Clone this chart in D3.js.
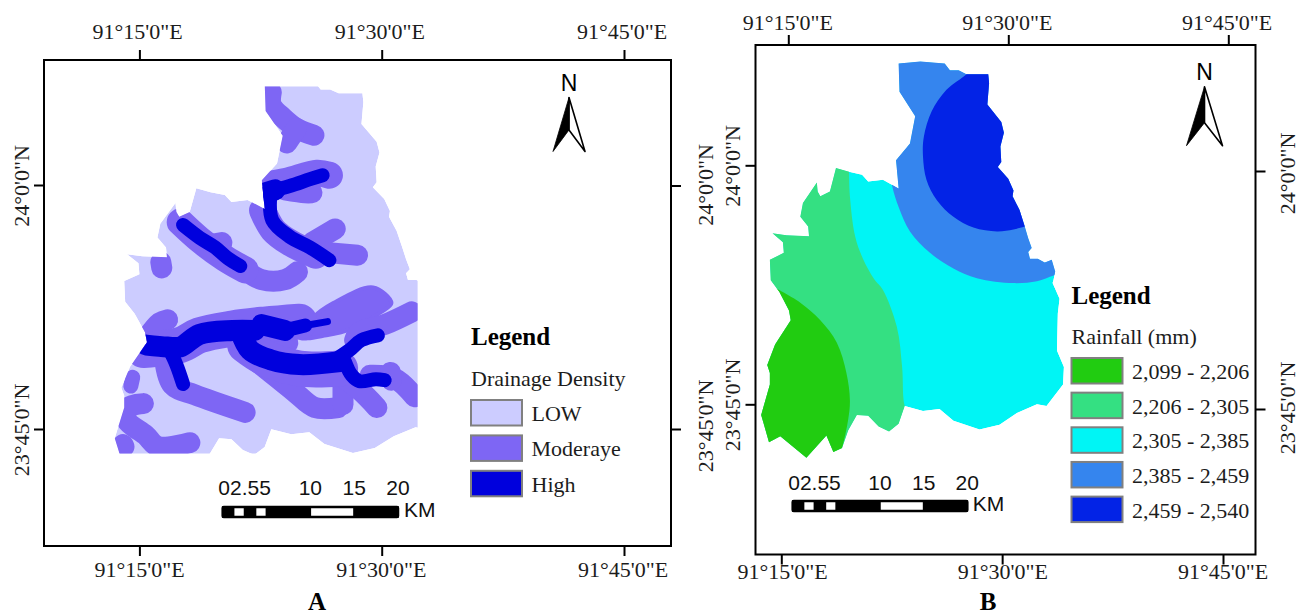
<!DOCTYPE html>
<html><head><meta charset="utf-8">
<style>html,body{margin:0;padding:0;background:#fff}svg{display:block}
.serif{font-family:"Liberation Serif",serif;fill:#1c1c1c}
.sans{font-family:"Liberation Sans",sans-serif;fill:#111}</style>
<script src="https://cdn.jsdelivr.net/npm/d3@7/dist/d3.min.js"></script></head><body>
<svg id="c" width="1297" height="612"></svg>
<script>
// ---- data: everything is [longitude, latitude] in decimal degrees ----
const lonTicks=[91.25,91.5,91.75], latTicks=[24,23.75];
const lonLabels=["91°15'0\"E","91°30'0\"E","91°45'0\"E"], latLabels=["24°0'0\"N","23°45'0\"N"];
const boundary=[[91.376,24.105],[91.401,24.107],[91.429,24.105],[91.435,24.098],[91.445,24.098],[91.454,24.094],[91.479,24.094],[91.480,24.085],[91.478,24.063],[91.494,24.045],[91.497,24.034],[91.493,24.020],[91.494,24.004],[91.490,23.999],[91.502,23.987],[91.508,23.975],[91.507,23.969],[91.515,23.955],[91.521,23.938],[91.525,23.926],[91.529,23.916],[91.525,23.912],[91.527,23.905],[91.536,23.905],[91.544,23.901],[91.552,23.904],[91.556,23.892],[91.554,23.883],[91.553,23.880],[91.561,23.864],[91.559,23.849],[91.558,23.811],[91.566,23.794],[91.565,23.776],[91.546,23.754],[91.535,23.756],[91.512,23.747],[91.492,23.735],[91.469,23.730],[91.439,23.739],[91.423,23.751],[91.404,23.749],[91.383,23.754],[91.376,23.736],[91.365,23.728],[91.353,23.733],[91.341,23.744],[91.328,23.745],[91.318,23.729],[91.311,23.711],[91.301,23.707],[91.293,23.724],[91.270,23.701],[91.240,23.723],[91.227,23.717],[91.218,23.745],[91.228,23.776],[91.228,23.788],[91.225,23.796],[91.234,23.817],[91.252,23.842],[91.250,23.852],[91.239,23.871],[91.229,23.883],[91.228,23.904],[91.244,23.911],[91.243,23.922],[91.231,23.931],[91.247,23.929],[91.273,23.928],[91.272,23.938],[91.263,23.948],[91.266,23.962],[91.282,23.983],[91.283,23.974],[91.286,23.969],[91.297,23.974],[91.304,23.998],[91.319,23.994],[91.334,23.991],[91.341,23.984],[91.358,23.986],[91.376,23.977],[91.373,24.006],[91.389,24.023],[91.395,24.051],[91.377,24.076]];
// map A is cut to this window [west, south, east, north]
const windowA=[91.0,23.725,91.537,24.101];

// Drainage density (map A): stream buffers as centre lines, by buffer width
const moderateNarrow=[[[91.243,23.803],[91.241,23.794]]];
const moderateStreams=[
 [[91.386,24.095],[91.386,24.082],[91.398,24.069],[91.412,24.058],[91.430,24.051]],
 [[91.412,24.058],[91.402,24.043]],
 [[91.400,23.995],[91.421,23.992],[91.428,23.992]],
 [[91.428,23.941],[91.452,23.955]],
 [[91.442,23.931],[91.475,23.928]],
 [[91.359,23.913],[91.376,23.903],[91.400,23.903],[91.413,23.911]],
 [[91.323,23.939],[91.335,23.941]],
 [[91.272,23.921],[91.273,23.915]],
 [[91.256,23.841],[91.271,23.859],[91.279,23.862]],
 [[91.472,23.841],[91.477,23.849],[91.503,23.857],[91.531,23.870]],
 [[91.359,23.829],[91.385,23.808],[91.410,23.788],[91.431,23.772],[91.455,23.772]],
 [[91.460,23.800],[91.460,23.775]],
 [[91.457,23.805],[91.477,23.790],[91.495,23.772]],
 [[91.488,23.805],[91.513,23.802],[91.534,23.783]],
 [[91.509,23.808],[91.510,23.800]],
 [[91.276,23.821],[91.284,23.795],[91.307,23.785],[91.359,23.767]],
 [[91.254,23.776],[91.238,23.772],[91.237,23.759],[91.256,23.744],[91.269,23.732],[91.302,23.736]],
 [[91.233,23.734],[91.234,23.732]],
 [[91.379,23.841],[91.403,23.838]]
];
const moderateMid=[
 [[91.379,24.000],[91.402,24.004],[91.433,24.012],[91.446,24.010]],
 [[91.377,23.974],[91.388,23.954],[91.405,23.941],[91.432,23.928]],
 [[91.292,23.962],[91.312,23.944],[91.338,23.925],[91.359,23.913]]
];
const moderateBroad=[
 [[91.254,23.831],[91.292,23.836],[91.312,23.846],[91.346,23.853],[91.379,23.857],[91.415,23.860]],
 [[91.359,23.836],[91.379,23.823],[91.415,23.812],[91.457,23.812]]
];
const moderateBlob=[[91.429,23.864],[91.450,23.879],[91.491,23.895],[91.510,23.879],[91.498,23.869],[91.470,23.853],[91.443,23.846],[91.415,23.844]];
const highBroad=[
 [[91.257,23.836],[91.279,23.834],[91.292,23.834],[91.312,23.847],[91.346,23.851],[91.369,23.851]],
 [[91.354,23.851],[91.364,23.831],[91.385,23.821],[91.415,23.816],[91.457,23.819]],
 [[91.376,23.857],[91.400,23.851]],
 [[91.380,23.992],[91.390,23.995]]
];
const highStreams=[
 [[91.400,23.851],[91.421,23.856]],
 [[91.452,23.821],[91.467,23.831],[91.479,23.841],[91.496,23.846]],
 [[91.281,23.831],[91.288,23.816],[91.295,23.796]],
 [[91.462,23.819],[91.469,23.805],[91.477,23.799],[91.494,23.801],[91.503,23.800]],
 [[91.382,23.993],[91.405,23.999],[91.426,24.006],[91.439,24.010]],
 [[91.385,23.990],[91.387,23.964],[91.405,23.947],[91.426,23.936],[91.446,23.923]],
 [[91.295,23.959],[91.312,23.946],[91.328,23.936],[91.341,23.925],[91.354,23.917]]
];
const highThin=[[[91.421,23.856],[91.444,23.860]]];
const drainageClasses=["LOW","Moderaye","High"];
const drainageColors=["#CCCCFF","#7E66F4","#0000DD"];

// Rainfall (map B): zone edges, each with the outer corners that close the zone
const rainClasses=["2,099 - 2,206","2,206 - 2,305","2,305 - 2,385","2,385 - 2,459","2,459 - 2,540"];
const rainColors=["#21CC11","#34E082","#00F5F5","#3585EE","#0323E6"];
const edgeGreen=[[91.228,23.878],[91.263,23.860],[91.286,23.842],[91.305,23.819],[91.316,23.788],[91.320,23.760],[91.318,23.740],[91.311,23.711],[91.303,23.688]];
const cornersGreen=[[91.2,23.688],[91.2,23.878]];
const edgeMint=[[91.319,24.006],[91.319,23.994],[91.320,23.969],[91.326,23.928],[91.335,23.905],[91.348,23.884],[91.358,23.873],[91.374,23.835],[91.380,23.794],[91.383,23.754],[91.391,23.740]];
const cornersMint=[[91.391,23.68],[91.2,23.68],[91.2,24.006]];
const edgeBlue=[[91.366,23.996],[91.369,23.978],[91.376,23.958],[91.389,23.933],[91.412,23.911],[91.439,23.895],[91.466,23.885],[91.508,23.880],[91.535,23.882],[91.555,23.888],[91.579,23.895]];
const cornersBlue=[[91.6,23.895],[91.6,24.15],[91.366,24.15]];
const edgeDark=[[91.464,24.104],[91.454,24.094],[91.431,24.078],[91.414,24.056],[91.405,24.030],[91.404,24.010],[91.408,23.986],[91.420,23.965],[91.439,23.948],[91.462,23.937],[91.489,23.933],[91.508,23.935],[91.521,23.938],[91.544,23.943]];
const cornersDark=[[91.6,23.943],[91.6,24.15],[91.464,24.15]];

// Scale bar
const barStops=[0,1.25,2.5,3.75,5,10,15,20];
const barLabels=[[2.5,"02.55"],[10,"10"],[15,"15"],[20,"20"]];

// ---- drawing ----
const svg=d3.select("#c");
const defs=svg.append("defs");
function fmtTicks(g){g.select(".domain").remove();g.selectAll("line").attr("stroke","#000").attr("stroke-width",2);}

function mapFrame(o){
  const x=d3.scaleLinear().domain([91.25,91.75]).range(o.xr);
  const y=d3.scaleLinear().domain([24,23.75]).range(o.yr);
  const line=d3.line().x(d=>x(d[0])).y(d=>y(d[1]));
  return {x,y,line};
}
function decorate(g,o){
  const [L,T,R,B]=o.frame;
  const lon=r=>d3.scaleLinear().domain([91.25,91.75]).range(r);
  const lat=r=>d3.scaleLinear().domain([24,23.75]).range(r);
  g.append("rect").attr("x",L).attr("y",T).attr("width",R-L).attr("height",B-T).attr("fill","none").attr("stroke","#000").attr("stroke-width",2);
  const ax=(axis,tr,vals)=>g.append("g").attr("transform",tr).call(axis.tickSize(10).tickSizeOuter(0).tickValues(vals).tickFormat("")).call(fmtTicks);
  ax(d3.axisTop(lon(o.topT)),`translate(0,${T})`,lonTicks);
  ax(d3.axisBottom(lon(o.botT)),`translate(0,${B})`,lonTicks);
  ax(d3.axisLeft(lat(o.leftT)),`translate(${L},0)`,latTicks);
  ax(d3.axisRight(lat(o.rightT)),`translate(${R},0)`,latTicks);
  const hor=(s,yy)=>g.append("g").selectAll("text").data(lonLabels).join("text").attr("class","serif").attr("font-size",22).attr("text-anchor","middle")
     .attr("x",(d,i)=>lon(s)(lonTicks[i])).attr("y",yy).text(d=>d);
  hor(o.topL,o.topBase); hor(o.botL,o.botBase);
  const ver=(s,b)=>g.append("g").selectAll("text").data(latLabels).join("text").attr("class","serif").attr("font-size",22).attr("text-anchor","middle")
     .attr("transform",(d,i)=>`translate(${b},${lat(s)(latTicks[i])}) rotate(-90)`).text(d=>d);
  ver(o.leftL,o.leftBase); ver(o.rightL,o.rightBase);
}
function northArrow(g,cx,base,apex,w,h,inner){
  const a=g.append("g").attr("transform",`translate(${cx},0)`);
  a.append("text").attr("class","sans").attr("font-size",23).attr("text-anchor","middle").attr("y",base).text("N").style("fill","#000");
  const pt=(u,v)=>`${u*w},${apex+v*h}`;
  a.append("path").attr("d",`M${pt(0,0)}L${pt(1,1)}L${pt(0,inner)}Z`).attr("fill","#fff").attr("stroke","#000").attr("stroke-width",1.6).attr("stroke-linejoin","round");
  a.append("path").attr("d",`M${pt(0,0)}L${pt(-1,1)}L${pt(0,inner)}Z`).attr("fill","#000").attr("stroke","#000").attr("stroke-width",.8);
}
function scaleBar(g,x0,x1,y0,base,kmX,kmBase){
  const s=d3.scaleLinear().domain([0,20]).range([x0,x1]);
  g.append("g").selectAll("rect").data(d3.pairs(barStops)).join("rect")
   .attr("x",d=>s(d[0])).attr("width",d=>s(d[1])-s(d[0])).attr("y",y0+1).attr("height",10)
   .attr("fill",(d,i)=>i%2?"#fff":"#000").attr("stroke","#000").attr("stroke-width",1.5);
  g.append("rect").attr("x",x0).attr("y",y0+1).attr("width",x1-x0).attr("height",10).attr("rx",1).attr("fill","none").attr("stroke","#000").attr("stroke-width",2.5);
  g.append("g").selectAll("text").data(barLabels).join("text").attr("class","sans").attr("font-size",21).attr("text-anchor","middle")
   .attr("x",d=>s(d[0])).attr("y",base).text(d=>d[1]);
  g.append("text").attr("class","sans").attr("font-size",21).attr("x",kmX).attr("y",kmBase).text("KM");
}
function legend(g,o){
  g.append("text").attr("class","serif").attr("font-size",25).attr("font-weight","bold").attr("x",o.x).attr("y",o.titleY).style("fill","#000").text("Legend");
  g.append("text").attr("class","serif").attr("font-size",22).attr("x",o.x).attr("y",o.subY).text(o.sub);
  g.append("g").selectAll("rect").data(o.colors).join("rect").attr("x",o.x).attr("y",(d,i)=>o.y0+i*o.step).attr("width",51).attr("height",25.5)
   .attr("fill",d=>d).attr("stroke","#808080").attr("stroke-width",2);
  g.append("g").selectAll("text").data(o.labels).join("text").attr("class","serif").attr("font-size",22)
   .attr("x",o.x+60.5).attr("y",(d,i)=>o.y0+i*o.step+21).text(d=>d);
}

// Map A
const optA={xr:[139.5,624],yr:[185,429],frame:[44,60,671,546],
 topT:[139.4,624],botT:[139.4,624],leftT:[185,429],rightT:[185.5,429],
 topL:[137.5,622],botL:[139.5,623],leftL:[186,430],rightL:[185,426],
 topBase:39,botBase:577,leftBase:28.7,rightBase:712.7};
const mA=mapFrame(optA), gA=svg.append("g");
const bxA=d3.scaleLinear().domain([91.25,91.53]).range([mA.x(91.25)+5.6,mA.x(91.53)]);
const byA=d3.scaleLinear().domain([24.1,23.75]).range([mA.y(24.1),mA.y(23.75)+4.2]);
const outlineA=d3.line().x(d=>bxA(d[0])).y(d=>byA(d[1]));
const smoothA=d3.line().x(d=>mA.x(d[0])).y(d=>mA.y(d[1])).curve(d3.curveCatmullRom);
defs.append("clipPath").attr("id","winA").append("rect")
 .attr("x",mA.x(windowA[0])).attr("y",mA.y(windowA[3])).attr("width",mA.x(windowA[2])-mA.x(windowA[0])).attr("height",mA.y(windowA[1])-mA.y(windowA[3]));
defs.append("clipPath").attr("id","bndA").append("path").attr("d",outlineA(boundary)+"Z");
const innerA=gA.append("g").attr("clip-path","url(#winA)").append("g").attr("clip-path","url(#bndA)");
innerA.append("path").attr("d",outlineA(boundary)+"Z").attr("fill",drainageColors[0]);
const streams=(data,w,color)=>innerA.append("g").selectAll("path").data(data).join("path").attr("d",smoothA).attr("fill","none").attr("stroke",color).attr("stroke-width",w).attr("stroke-linecap","round").attr("stroke-linejoin","round");
innerA.append("path").attr("d",d3.line().x(d=>mA.x(d[0])).y(d=>mA.y(d[1])).curve(d3.curveCatmullRomClosed)(moderateBlob)).attr("fill",drainageColors[1]).attr("stroke",drainageColors[1]).attr("stroke-width",4).attr("stroke-linejoin","round");
streams(moderateNarrow,15,drainageColors[1]);
streams(moderateStreams,21,drainageColors[1]);
streams(moderateMid,27,drainageColors[1]);
streams(moderateBroad,36,drainageColors[1]);
streams(highBroad,21,drainageColors[2]);
streams(highStreams,14,drainageColors[2]);
streams(highThin,7,drainageColors[2]);
decorate(gA,optA);
northArrow(gA,569,91,97.5,16,54,0.6);
scaleBar(gA,222.7,398,506,495,404,516.7);
legend(gA,{x:471,titleY:345,subY:386,sub:"Drainage Density",y0:400,step:35.4,colors:drainageColors,labels:drainageClasses});
gA.append("text").attr("class","serif").attr("font-size",25).attr("font-weight","bold").attr("text-anchor","middle").attr("x",317).attr("y",610).style("fill","#000").text("A");

// Map B
const optB={xr:[789,1224],yr:[166,410],frame:[755.5,45,1255.5,554.5],
 topT:[788.3,1228.3],botT:[781.3,1223],leftT:[165.3,404.3],rightT:[171,409],
 topL:[787.8,1227],botL:[782.5,1223],leftL:[166,405],rightL:[173.5,408],
 topBase:30,botBase:579.3,leftBase:740,rightBase:1295};
const mB=mapFrame(optB), gB=svg.append("g");
defs.append("clipPath").attr("id","bndB").append("path").attr("d",mB.line(boundary)+"Z");
const innerB=gB.append("g").attr("clip-path","url(#bndB)");
innerB.append("path").attr("d",mB.line(boundary)+"Z").attr("fill",rainColors[2]);
const edgeLine=d3.line().x(d=>mB.x(d[0])).y(d=>mB.y(d[1])).curve(d3.curveCatmullRom);
const zone=(edge,corners,color)=>innerB.append("path").attr("d",edgeLine(edge)+mB.line(corners).replace("M","L")+"Z").attr("fill",color);
zone(edgeMint,cornersMint,rainColors[1]);
zone(edgeGreen,cornersGreen,rainColors[0]);
zone(edgeBlue,cornersBlue,rainColors[3]);
zone(edgeDark,cornersDark,rainColors[4]);
decorate(gB,optB);
northArrow(gB,1204.5,80,86.7,18,59,0.61);
scaleBar(gB,792.7,967.3,500,490,972.7,510.7);
legend(gB,{x:1071.5,titleY:304,subY:344,sub:"Rainfall (mm)",y0:358,step:34.65,colors:rainColors,labels:rainClasses});
gB.append("text").attr("class","serif").attr("font-size",25).attr("font-weight","bold").attr("text-anchor","middle").attr("x",988).attr("y",610).style("fill","#000").text("B");
</script></body></html>
